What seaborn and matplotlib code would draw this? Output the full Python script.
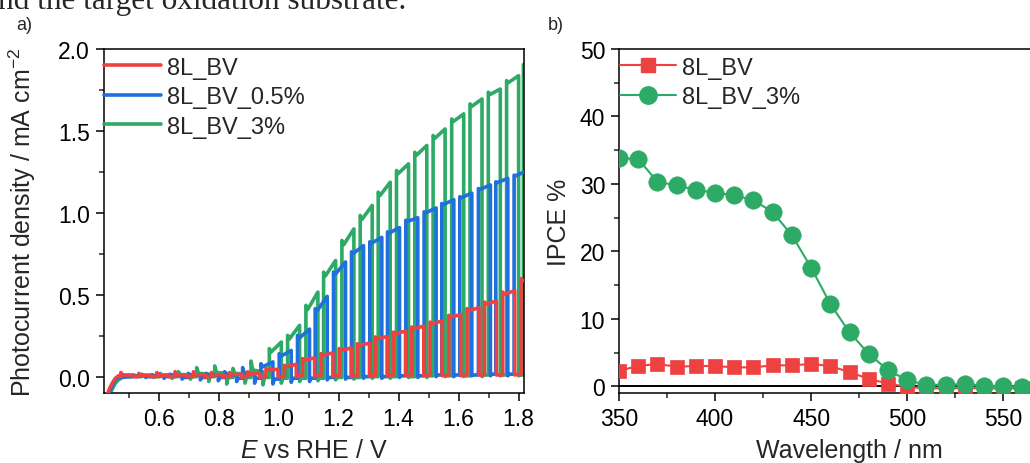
import numpy as np
import pandas as pd
import matplotlib
matplotlib.use("Agg")
import matplotlib.pyplot as plt
import seaborn as sns
from matplotlib.ticker import MultipleLocator
from matplotlib.lines import Line2D

# ---------------- panel a) chopped-light LSV data ----------------
series_names = ["8L_BV", "8L_BV_0.5%", "8L_BV_3%"]

# initial part of the sweep (before chopping is visible)
start_E = [0.425, 0.437, 0.447, 0.456, 0.466]
start_red = [-0.13, -0.07, -0.035, -0.01, 0.005]
start_blue = [-0.14, -0.09, -0.05, -0.02, -0.005]
start_green = [-0.15, -0.11, -0.07, -0.04, -0.02]

light_on_width = 0.040  # V, duration of each light-on period

# 8L_BV (red)
on_red = [0.474, 0.534, 0.594, 0.655, 0.716, 0.776, 0.837, 0.897, 0.958, 1.019, 1.080, 1.141,
          1.202, 1.263, 1.322, 1.383, 1.444, 1.505, 1.567, 1.628, 1.686, 1.747, 1.808]
peak_red = [0.025, 0.020, 0.025, 0.030, 0.030, 0.025, 0.025, 0.030, 0.049, 0.069, 0.110, 0.140,
            0.171, 0.201, 0.242, 0.272, 0.303, 0.333, 0.374, 0.415, 0.455, 0.516, 0.598]
dip_red = [0.010, 0.008, 0.008, 0.010, 0.010, 0.010, 0.012, 0.015, 0.040, 0.060, 0.100, 0.130,
           0.160, 0.190, 0.230, 0.262, 0.292, 0.322, 0.362, 0.403, 0.443, 0.503, 0.585]
end_red = [0.010, 0.008, 0.008, 0.010, 0.012, 0.012, 0.015, 0.020, 0.045, 0.075, 0.115, 0.145,
           0.175, 0.205, 0.245, 0.278, 0.308, 0.340, 0.380, 0.420, 0.462, 0.525, 0.610]
under_red = [0.000, 0.000, 0.000, 0.000, -0.005, -0.005, -0.005, -0.005, 0.000, 0.000, 0.000, 0.000,
             0.000, 0.005, 0.005, 0.005, 0.005, 0.005, 0.005, 0.010, 0.010, 0.010, 0.010]
dark_red = [0.000, 0.000, 0.000, 0.000, 0.000, 0.000, 0.000, 0.000, 0.000, 0.005, 0.005, 0.005,
            0.005, 0.005, 0.010, 0.010, 0.010, 0.010, 0.010, 0.010, 0.010, 0.012, 0.012]

# 8L_BV_0.5% (blue)
on_blue = [0.517, 0.578, 0.638, 0.699, 0.759, 0.820, 0.880, 0.941, 1.002, 1.063, 1.122, 1.183,
           1.243, 1.304, 1.363, 1.424, 1.485, 1.544, 1.604, 1.666, 1.724, 1.785]
peak_blue = [0.010, 0.012, 0.015, 0.020, 0.020, 0.030, 0.055, 0.079, 0.140, 0.252, 0.415, 0.638,
             0.762, 0.823, 0.884, 0.955, 1.006, 1.057, 1.098, 1.148, 1.189, 1.230]
dip_blue = [0.005, 0.005, 0.008, 0.010, 0.010, 0.010, 0.020, 0.060, 0.125, 0.235, 0.400, 0.625,
            0.752, 0.815, 0.877, 0.948, 1.000, 1.051, 1.093, 1.143, 1.185, 1.226]
end_blue = [0.005, 0.005, 0.008, 0.010, 0.010, 0.010, 0.015, 0.090, 0.160, 0.290, 0.490, 0.700,
            0.800, 0.850, 0.910, 0.970, 1.030, 1.080, 1.120, 1.170, 1.210, 1.255]
under_blue = [-0.005, -0.010, -0.015, -0.020, -0.025, -0.030, -0.040, -0.045, -0.035, -0.030, -0.020, -0.015,
              -0.010, -0.010, -0.005, -0.005, 0.000, 0.000, 0.005, 0.005, 0.005, 0.010]
dark_blue = [0.000, 0.000, -0.005, -0.005, -0.005, -0.010, -0.010, -0.015, -0.010, -0.010, -0.005, -0.005,
             0.000, 0.000, 0.005, 0.005, 0.010, 0.010, 0.010, 0.015, 0.015, 0.015]

# 8L_BV_3% (green)
on_green = [0.484, 0.544, 0.605, 0.666, 0.727, 0.787, 0.848, 0.908, 0.969, 1.030, 1.091, 1.150,
            1.211, 1.272, 1.332, 1.393, 1.454, 1.515, 1.577, 1.638, 1.699, 1.760, 1.816]
peak_green = [0.010, 0.015, 0.020, 0.030, 0.055, 0.065, 0.050, 0.095, 0.171, 0.252, 0.435, 0.638,
              0.831, 0.984, 1.126, 1.258, 1.370, 1.472, 1.573, 1.665, 1.736, 1.807, 1.905]
dip_green = [0.005, 0.008, 0.010, 0.012, 0.020, 0.025, 0.020, 0.040, 0.150, 0.230, 0.410, 0.615,
             0.805, 0.960, 1.105, 1.240, 1.352, 1.455, 1.558, 1.650, 1.722, 1.795, 1.890]
end_green = [0.005, 0.008, 0.010, 0.012, 0.015, 0.020, 0.015, 0.030, 0.211, 0.313, 0.516, 0.709,
             0.902, 1.045, 1.187, 1.299, 1.411, 1.512, 1.604, 1.695, 1.756, 1.837, 1.950]
under_green = [0.000, -0.005, -0.010, -0.015, -0.030, -0.045, -0.040, -0.050, -0.040, -0.030, -0.025, -0.020,
               -0.015, -0.010, -0.010, -0.005, -0.005, 0.000, 0.000, 0.000, 0.005, 0.005, 0.005]
dark_green = [0.000, 0.000, 0.000, 0.000, 0.000, -0.005, -0.005, -0.005, -0.010, -0.010, -0.010, -0.005,
              -0.005, 0.000, 0.000, 0.000, 0.005, 0.005, 0.005, 0.010, 0.010, 0.010, 0.010]

# ---------------- panel b) IPCE data ----------------
wavelength = [350, 360, 370, 380, 390, 400, 410, 420, 430, 440, 450,
              460, 470, 480, 490, 500, 510, 520, 530, 540, 550, 560]
ipce_bv = [2.3, 3.0, 3.3, 2.9, 3.0, 3.0, 2.8, 2.8, 3.1, 3.1, 3.3,
           3.0, 2.1, 1.1, 0.4, -0.1, -0.3, -0.3, -0.3, -0.3, -0.3, -0.3]
ipce_bv3 = [33.8, 33.7, 30.3, 29.8, 29.1, 28.7, 28.3, 27.6, 25.8, 22.4, 17.6,
            12.2, 8.0, 4.8, 2.4, 0.9, 0.2, 0.2, 0.3, 0.1, 0.0, -0.1]

RED = "#EE4242"
BLUE = "#1F6FDC"
GREEN = "#2DAA66"


def chopped(sE, sj, on, peak, dip, end, under, dark, name, notch=0.006, settle=0.005):
    E = list(sE)
    J = list(sj)
    for i in range(len(on)):
        prev = dark[i - 1] if i > 0 else dark[0]
        off = on[i] + light_on_width
        E += [on[i], on[i], on[i] + notch, off, off, off + settle]
        J += [prev, peak[i], dip[i], end[i], under[i], dark[i]]
    return pd.DataFrame({"E": E, "j": J, "sample": name})


df_red = chopped(start_E, start_red, on_red, peak_red, dip_red, end_red, under_red, dark_red, series_names[0])
df_blue = chopped(start_E, start_blue, on_blue, peak_blue, dip_blue, end_blue, under_blue, dark_blue, series_names[1])
df_green = chopped(start_E, start_green, on_green, peak_green, dip_green, end_green, under_green, dark_green, series_names[2])

df_ipce = pd.DataFrame({"wl": wavelength, "bv": ipce_bv, "bv3": ipce_bv3})

sns.set_theme(style="ticks")
plt.rcParams["font.family"] = ["Liberation Sans", "DejaVu Sans"]
plt.rcParams["mathtext.fontset"] = "custom"
plt.rcParams["mathtext.rm"] = "Liberation Sans"
plt.rcParams["mathtext.it"] = "Liberation Sans:italic"
plt.rcParams["axes.linewidth"] = 1.1
plt.rcParams["axes.edgecolor"] = "black"

W, H = 1030, 464
fig = plt.figure(figsize=(W / 100, H / 100), dpi=100)
fig.patch.set_facecolor("white")

ax1 = fig.add_axes([104 / W, 70 / H, 420 / W, 344 / H])
ax2 = fig.add_axes([619 / W, 70 / H, 461 / W, 344 / H])

lw = 2.6
sns.lineplot(data=df_green, x="E", y="j", sort=False, estimator=None, color=GREEN, lw=lw, ax=ax1, zorder=2)
sns.lineplot(data=df_blue, x="E", y="j", sort=False, estimator=None, color=BLUE, lw=lw, ax=ax1, zorder=3)
sns.lineplot(data=df_red, x="E", y="j", sort=False, estimator=None, color=RED, lw=lw, ax=ax1, zorder=4)

ax1.set_xlim(0.418, 1.818)
ax1.set_ylim(-0.1, 2.0)
ax1.xaxis.set_major_locator(MultipleLocator(0.2))
ax1.xaxis.set_minor_locator(MultipleLocator(0.1))
ax1.yaxis.set_major_locator(MultipleLocator(0.5))
ax1.yaxis.set_minor_locator(MultipleLocator(0.25))
ax1.set_xticks([0.6, 0.8, 1.0, 1.2, 1.4, 1.6, 1.8])
ax1.set_xticklabels(["0.6", "0.8", "1.0", "1.2", "1.4", "1.6", "1.8"])
ax1.set_xlabel(r"$\it{E}$ vs RHE / V", fontsize=18)
ax1.set_ylabel(r"Photocurrent density / mA cm$^{\mathrm{-2}}$", fontsize=18)
ax1.yaxis.set_label_coords(-0.157, 0.5)
ax1.xaxis.labelpad = 6

leg_handles = [Line2D([], [], color=RED, lw=lw), Line2D([], [], color=BLUE, lw=lw), Line2D([], [], color=GREEN, lw=lw)]
ax1.legend(leg_handles, series_names, loc="upper left", bbox_to_anchor=(-0.005, 0.985), frameon=False,
           fontsize=17, handlelength=2.4, handletextpad=0.25, labelspacing=0.32, borderaxespad=0.0, borderpad=0.1)

# panel b
ax2.axhline(0, color="black", lw=1.4, zorder=1)
sns.lineplot(data=df_ipce, x="wl", y="bv", color=RED, lw=1.5, marker="s", markersize=10,
             markeredgecolor=RED, markeredgewidth=0.5, ax=ax2, zorder=3)
sns.lineplot(data=df_ipce, x="wl", y="bv3", color=GREEN, lw=1.5, marker="o", markersize=12.5,
             markeredgecolor=GREEN, markeredgewidth=0.5, ax=ax2, zorder=4)
ax2.set_xlim(350, 590)
ax2.set_ylim(-1, 50)
ax2.xaxis.set_major_locator(MultipleLocator(50))
ax2.xaxis.set_minor_locator(MultipleLocator(25))
ax2.yaxis.set_major_locator(MultipleLocator(10))
ax2.yaxis.set_minor_locator(MultipleLocator(5))
ax2.set_xlabel("Wavelength / nm", fontsize=18)
ax2.set_ylabel("IPCE %", fontsize=18)
ax2.yaxis.set_label_coords(-0.104, 0.5)
ax2.xaxis.labelpad = 6
leg2_handles = [Line2D([], [], color=RED, lw=1.5, marker="s", markersize=10),
                Line2D([], [], color=GREEN, lw=1.5, marker="o", markersize=12.5)]
ax2.legend(leg2_handles, ["8L_BV", "8L_BV_3%"], loc="upper left", bbox_to_anchor=(-0.004, 0.985), frameon=False,
           fontsize=17, handlelength=2.4, handletextpad=0.25, labelspacing=0.32, borderaxespad=0.0, borderpad=0.1)

for ax in (ax1, ax2):
    ax.tick_params(which="major", direction="out", length=6, width=1.1, labelsize=16.5, colors="black", pad=4)
    ax.tick_params(which="minor", direction="out", length=3.5, width=1.1)
    ax.tick_params(top=False, right=False, which="both")
    for s in ax.spines.values():
        s.set_visible(True)
        s.set_color("black")
        s.set_linewidth(1.1)
    ax.set_facecolor("white")
    ax.grid(False)

fig.text(24 / W, 1 - 25 / H, "a)", fontsize=13, ha="center", va="center")
fig.text(556 / W, 1 - 25 / H, "b)", fontsize=13, ha="center", va="center")
fig.text(-2 / W, 1 - 9 / H, "nd the target oxidation substrate.", family=["Liberation Serif", "DejaVu Serif"],
         fontsize=22.5, ha="left", va="baseline")

fig.savefig("out.png", dpi=100, facecolor="white")
